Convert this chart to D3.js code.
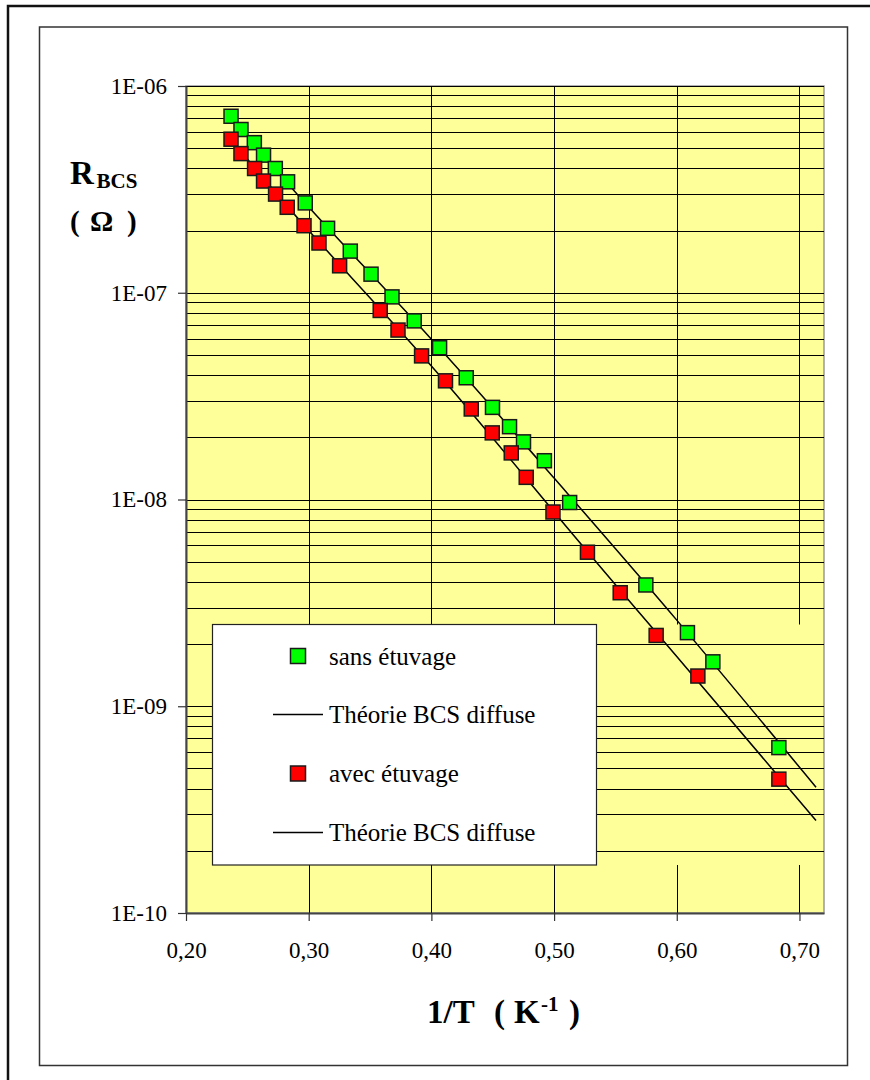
<!DOCTYPE html>
<html>
<head>
<meta charset="utf-8">
<script src="https://cdn.jsdelivr.net/npm/d3@7"></script>
<style>
  body { margin: 0; background: #fff; }
  svg text { font-family: "Liberation Serif", "Times New Roman", Times, "DejaVu Serif", serif; fill: #000; }
</style>
</head>
<body>
<div id="chart"></div>
<script>
// values: 1/T (K-1) and R_BCS (ohm)
const xSans = [0.2367, 0.2448, 0.2557, 0.2632, 0.2728, 0.2828, 0.2972, 0.3154, 0.3339, 0.3508, 0.3679, 0.3860,
    0.4067, 0.4284, 0.4498, 0.4637, 0.4751, 0.4921, 0.5127, 0.5748, 0.6087, 0.6294, 0.6832];
const rSans = [7.14e-7, 6.16e-7, 5.32e-7, 4.63e-7, 3.99e-7, 3.44e-7, 2.72e-7, 2.05e-7, 1.59e-7, 1.23e-7, 9.55e-8, 7.31e-8,
    5.42e-8, 3.88e-8, 2.79e-8, 2.25e-8, 1.90e-8, 1.54e-8, 9.67e-9, 3.86e-9, 2.27e-9, 1.64e-9, 6.31e-10];

const xAvec = [0.2367, 0.2448, 0.2559, 0.2632, 0.2730, 0.2825, 0.2962, 0.3084, 0.3252, 0.3583, 0.3728, 0.3920,
    0.4115, 0.4325, 0.4496, 0.4651, 0.4773, 0.4991, 0.5272, 0.5539, 0.5832, 0.6172, 0.6832];
const rAvec = [5.53e-7, 4.71e-7, 3.99e-7, 3.47e-7, 3.00e-7, 2.59e-7, 2.11e-7, 1.74e-7, 1.35e-7, 8.21e-8, 6.60e-8, 4.95e-8,
    3.75e-8, 2.74e-8, 2.10e-8, 1.68e-8, 1.28e-8, 8.70e-9, 5.56e-9, 3.54e-9, 2.20e-9, 1.40e-9, 4.44e-10];

// theory curves (Théorie BCS diffuse)
const xTheoSans = [0.235, 0.30, 0.40, 0.50, 0.60, 0.7135];
const rTheoSans = [7.33e-7, 2.60e-7, 5.96e-8, 1.27e-8, 2.61e-9, 4.06e-10];
const xTheoAvec = [0.235, 0.30, 0.40, 0.50, 0.60, 0.7135];
const rTheoAvec = [5.69e-7, 2.00e-7, 4.42e-8, 8.71e-9, 1.74e-9, 2.80e-10];

const xTicks = [0.20, 0.30, 0.40, 0.50, 0.60, 0.70];
const yTicks = [1e-10, 1e-9, 1e-8, 1e-7, 1e-6];
const legendLabels = ["sans étuvage", "Théorie BCS diffuse", "avec étuvage", "Théorie BCS diffuse"];

const pLeft = 186, pRight = 824, pTop = 86, pBottom = 913;
const legX = 212.5, legY = 624.5, legW = 384, legH = 240.5;
const serif = '"Liberation Serif", "Times New Roman", Times, "DejaVu Serif", serif';

const xScale = d3.scaleLinear().domain([0.2, 0.72]).range([pLeft, pRight]);
const yScale = d3.scaleLog().domain([1e-10, 1e-6]).range([pBottom, pTop]);

const svg = d3.select("#chart")
    .append("svg")
    .attr("width", 870)
    .attr("height", 1080)
    .attr("font-family", serif);

// frames
svg.append("rect").attr("x", 8).attr("y", 6).attr("width", 900).attr("height", 1100)
    .attr("fill", "#fff").attr("stroke", "#111").attr("stroke-width", 2.5);
svg.append("rect").attr("x", 39.5).attr("y", 27).attr("width", 808).attr("height", 1038.5)
    .attr("fill", "#fff").attr("stroke", "#333").attr("stroke-width", 1.5);

// plot area
svg.append("rect").attr("x", pLeft).attr("y", pTop).attr("width", pRight - pLeft).attr("height", pBottom - pTop)
    .attr("fill", "#ffff99").attr("stroke", "#999").attr("stroke-width", 1.5);

// horizontal gridlines (decades and minor multiples)
svg.append("g").selectAll("line")
    .data(yScale.ticks().filter(d => d > 1e-10 * 1.01))
    .join("line")
    .attr("x1", pLeft).attr("x2", pRight)
    .attr("y1", d => Math.round(yScale(d)) + 0.5)
    .attr("y2", d => Math.round(yScale(d)) + 0.5)
    .attr("stroke", "#000").attr("stroke-width", 1);

// vertical gridlines, cut where the legend band is (as in the original)
const vGrid = xTicks.filter(d => d > 0.2);
svg.append("g").selectAll("line")
    .data(vGrid.flatMap(d => [[d, pTop, legY], [d, legY + legH, pBottom]]))
    .join("line")
    .attr("x1", d => Math.round(xScale(d[0])) + 0.5)
    .attr("x2", d => Math.round(xScale(d[0])) + 0.5)
    .attr("y1", d => d[1]).attr("y2", d => d[2])
    .attr("stroke", "#000").attr("stroke-width", 1);

// axes
const yAxis = d3.axisLeft(yScale)
    .tickValues(yTicks)
    .tickSize(8)
    .tickSizeOuter(0)
    .tickPadding(11)
    .tickFormat(d => "1E-" + String(-Math.round(Math.log10(d))).padStart(2, "0"));
const gy = svg.append("g").attr("transform", `translate(${pLeft},0)`).call(yAxis);

const xAxis = d3.axisBottom(xScale)
    .tickValues(xTicks)
    .tickSize(8)
    .tickSizeOuter(0)
    .tickPadding(21)
    .tickFormat(d => d3.format(".2f")(d).replace(".", ","));
const gx = svg.append("g").attr("transform", `translate(0,${pBottom})`).call(xAxis);

[gx, gy].forEach(g => {
    g.attr("font-family", serif).attr("font-size", 23);
    g.select(".domain").attr("stroke", "#444").attr("stroke-width", 2);
    g.selectAll(".tick line").attr("stroke", "#333").attr("stroke-width", 1.2);
    g.selectAll(".tick text").attr("fill", "#000");
});

// theory curves
const theoLine = d3.line()
    .x(d => xScale(d[0]))
    .y(d => yScale(d[1]))
    .curve(d3.curveNatural);

svg.append("path")
    .datum(xTheoSans.map((x, i) => [x, rTheoSans[i]]))
    .attr("d", theoLine)
    .attr("fill", "none").attr("stroke", "#000").attr("stroke-width", 1.5);
svg.append("path")
    .datum(xTheoAvec.map((x, i) => [x, rTheoAvec[i]]))
    .attr("d", theoLine)
    .attr("fill", "none").attr("stroke", "#000").attr("stroke-width", 1.5);

// markers
const ms = 14;
function drawSquares(xs, rs, color) {
    svg.append("g").selectAll("rect")
        .data(xs.map((x, i) => [x, rs[i]]))
        .join("rect")
        .attr("x", d => xScale(d[0]) - ms / 2)
        .attr("y", d => yScale(d[1]) - ms / 2)
        .attr("width", ms).attr("height", ms)
        .attr("fill", color)
        .attr("stroke", "#1a1a1a").attr("stroke-width", 1.5);
}
drawSquares(xSans, rSans, "#00ff00");
drawSquares(xAvec, rAvec, "#ff0000");

// legend
const leg = svg.append("g");
leg.append("rect").attr("x", legX).attr("y", legY).attr("width", legW).attr("height", legH)
    .attr("fill", "#fff").attr("stroke", "#222").attr("stroke-width", 1.2);
const rowY = [656, 714.5, 773.5, 832.5];
const legKinds = ["#00ff00", "line", "#ff0000", "line"];
legendLabels.forEach((lab, i) => {
    if (legKinds[i] === "line") {
        leg.append("line").attr("x1", 273).attr("x2", 323).attr("y1", rowY[i]).attr("y2", rowY[i])
            .attr("stroke", "#000").attr("stroke-width", 1.5);
    } else {
        leg.append("rect").attr("x", 298 - 7.5).attr("y", rowY[i] - 7.5).attr("width", 15).attr("height", 15)
            .attr("fill", legKinds[i]).attr("stroke", "#1a1a1a").attr("stroke-width", 1.5);
    }
    leg.append("text").attr("x", 329).attr("y", rowY[i] + 8.5)
        .attr("font-size", 25).text(lab);
});

// y title
const yt = svg.append("g").attr("font-weight", "bold");
yt.append("text").attr("x", 70).attr("y", 184).attr("font-size", 33).text("R");
yt.append("text").attr("x", 96.5).attr("y", 188).attr("font-size", 21).text("BCS");
yt.append("text").attr("x", 70).attr("y", 231).attr("font-size", 29).text("(");
yt.append("text").attr("x", 90).attr("y", 231).attr("font-size", 29).text("Ω");
yt.append("text").attr("x", 127).attr("y", 231).attr("font-size", 29).text(")");

// x title
const xt = svg.append("g").attr("font-weight", "bold");
xt.append("text").attr("x", 427).attr("y", 1022.5).attr("font-size", 33).text("1/T");
xt.append("text").attr("x", 494).attr("y", 1022.5).attr("font-size", 33).text("(");
xt.append("text").attr("x", 514).attr("y", 1022.5).attr("font-size", 33).text("K");
xt.append("text").attr("x", 541).attr("y", 1011).attr("font-size", 21).text("-1");
xt.append("text").attr("x", 569).attr("y", 1022.5).attr("font-size", 33).text(")");
</script>
</body>
</html>
